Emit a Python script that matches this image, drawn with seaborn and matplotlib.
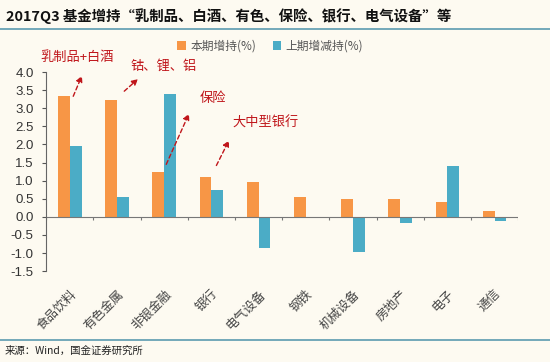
import matplotlib
matplotlib.use("Agg")
import matplotlib.pyplot as plt
import seaborn as sns
import pandas as pd
import numpy as np

# data
industries = ['食品饮料', '有色金属', '非银金融', '银行', '电气设备', '钢铁', '机械设备', '房地产', '电子', '通信']
this_q = [3.33, 3.22, 1.23, 1.10, 0.95, 0.54, 0.50, 0.48, 0.42, 0.16]
last_q = [1.95, 0.56, 3.38, 0.74, -0.85, 0.0, -0.98, -0.17, 1.41, -0.12]
series_names = ['本期增持(%)', '上期增减持(%)']
y_ticks = [-1.5, -1.0, -0.5, 0.0, 0.5, 1.0, 1.5, 2.0, 2.5, 3.0, 3.5, 4.0]

notes = ['乳制品+白酒', '钴、锂、铝', '保险', '大中型银行']

df = pd.DataFrame({
    'industry': industries * 2,
    'value': this_q + last_q,
    'series': [series_names[0]] * len(industries) + [series_names[1]] * len(industries),
})

sns.set_style('white')
plt.rcParams['font.family'] = ['Noto Sans CJK SC', 'DejaVu Sans']
plt.rcParams['axes.unicode_minus'] = False

bg = '#FDFAF1'
orange = '#F79646'
blue = '#4BACC6'
line_col = '#5B9BB0'

fig = plt.figure(figsize=(5.5, 3.62), dpi=100, facecolor=bg)
ax = fig.add_axes([0.084, 0.251, 0.858, 0.550])
ax.set_facecolor(bg)

sns.barplot(data=df, x='industry', y='value', hue='series', palette=[orange, blue],
            width=0.5, gap=0, ax=ax, saturation=1, linewidth=0)

ax.set_ylim(-1.5, 4.0)
ax.set_xlim(-0.5, len(industries) - 0.5)
ax.set_yticks(y_ticks)
ax.set_yticklabels([f'{t:.1f}' for t in y_ticks], fontsize=9.5, color='#333333',
                   family=['Liberation Sans', 'DejaVu Sans'])
ax.set_xticks(range(len(industries)))
ax.set_xticklabels(industries, rotation=45, ha='right', rotation_mode='anchor',
                   fontsize=9, color='#444444')
ax.tick_params(axis='x', length=0, pad=12)
ax.tick_params(axis='y', length=3, color='#555555', width=0.8, left=True, pad=6)
ax.set_xlabel('')
ax.set_ylabel('')
for s in ['top', 'right', 'bottom']:
    ax.spines[s].set_visible(False)
ax.spines['left'].set_color('#666666')
ax.spines['left'].set_linewidth(0.8)

# zero line with small tick marks between categories
ax.axhline(0, color='#777777', lw=0.8, zorder=1)
bounds = np.arange(len(industries) + 1) - 0.5
ax.vlines(bounds, -0.08, 0, color='#777777', lw=0.8, zorder=1)

leg = ax.legend(loc='center', bbox_to_anchor=(0.475, 1.13), ncol=2, frameon=False,
                fontsize=8.5, handlelength=0.7, handleheight=0.7, columnspacing=1.4,
                handletextpad=0.4)
for t in leg.get_texts():
    t.set_color('#555555')

# red annotations with dashed arrows
red = '#C0161B'
note_pos = [(-0.63, 4.39), (1.28, 4.17), (2.76, 3.28), (3.44, 2.59)]
arrow_from = [(0.05, 3.26), (1.11, 3.42), (2.02, 1.38), (3.08, 1.35)]
arrow_to = [(0.28, 3.97), (1.49, 3.86), (2.55, 2.92), (3.40, 2.18)]
for txt, p in zip(notes, note_pos):
    ax.text(p[0], p[1], txt, color=red, fontsize=9.5, ha='left', va='center', clip_on=False)
for a, b in zip(arrow_from, arrow_to):
    ax.annotate('', xy=b, xytext=a, annotation_clip=False,
                arrowprops=dict(arrowstyle='-|>', color=red, lw=1.0, ls=(0, (3, 2)),
                                mutation_scale=9))

# title, rules and source
fig.text(0.01, 0.955, '2017Q3 基金增持“乳制品、白酒、有色、保险、银行、电气设备”等',
         fontsize=10.4, fontweight='bold', style='italic', color='#111111', va='center')
fig.add_artist(plt.Line2D([0, 1], [0.919, 0.919], color=line_col, lw=1.2))
fig.add_artist(plt.Line2D([0, 1], [0.061, 0.061], color=line_col, lw=1.2))
fig.text(0.008, 0.032, '来源：Wind，国金证券研究所', fontsize=7.5, color='#222222', va='center')

fig.savefig('out.png', dpi=100, facecolor=bg)
